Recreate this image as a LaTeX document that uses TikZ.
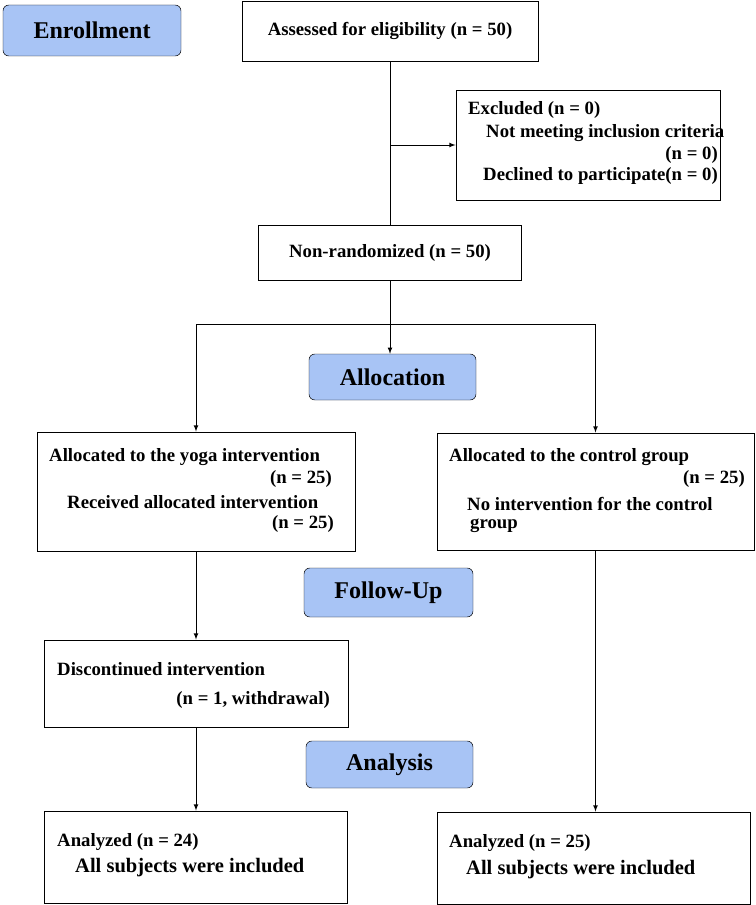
\documentclass[tikz,border=0pt]{standalone}
\usepackage{fontspec}
\setmainfont{Liberation Serif}
\usetikzlibrary{shapes,arrows,positioning}
\definecolor{labelblue}{RGB}{168,196,245}

\begin{document}
\begin{tikzpicture}[x=0.03cm,y=-0.03cm,
  box/.style={draw, thick, inner sep=0pt},
  stage/.style={draw, rounded corners=5pt, fill=labelblue, inner sep=0pt, font=\fontsize{20.5}{24}\selectfont\bfseries},
  txt/.style={font=\fontsize{16}{19}\selectfont\bfseries, inner sep=0pt},
  big/.style={font=\fontsize{17.5}{21}\selectfont\bfseries, inner sep=0pt},
  arr/.style={-latex, thick}]
\useasboundingbox (0,0) rectangle (755,905);

% Stage labels
\node[stage, minimum width=178*0.03cm, minimum height=51*0.03cm] (enrol) at (92,30.5) {Enrollment};
\node[stage, minimum width=167*0.03cm, minimum height=46*0.03cm] (alloc) at (392.5,377) {Allocation};
\node[stage, minimum width=169*0.03cm, minimum height=49*0.03cm] (follow) at (388.5,592.5) {Follow-Up};
\node[stage, minimum width=167*0.03cm, minimum height=47*0.03cm] (analysis) at (389.5,764.5) {Analysis};

% Boxes
\node[box, minimum width=296*0.03cm, minimum height=60*0.03cm] (assess) at (390,31) {};
\node[txt] at (assess.center) {Assessed for eligibility (n = 50)};
\node[box, minimum width=264*0.03cm, minimum height=110*0.03cm] (excl) at (588,145) {};
\node[txt, anchor=west] at (468,110) {Excluded (n = 0)};
\node[txt, anchor=west] at (486,133) {Not meeting inclusion criteria};
\node[txt, anchor=east] at (718,155) {(n = 0)};
\node[txt, anchor=west] at (483,176) {Declined to participate(n = 0)};
\node[box, minimum width=263*0.03cm, minimum height=55*0.03cm] (nonrand) at (390,252.5) {};
\node[txt] at (nonrand.center) {Non-randomized (n = 50)};

\node[box, minimum width=318*0.03cm, minimum height=119*0.03cm] (yoga) at (196,491.5) {};
\node[txt, anchor=west] at (49,457) {Allocated to the yoga intervention};
\node[txt, anchor=east] at (332,479) {(n = 25)};
\node[txt, anchor=west] at (67,502) {Received allocated intervention};
\node[txt, anchor=east] at (334,524) {(n = 25)};
\node[box, minimum width=317*0.03cm, minimum height=117*0.03cm] (ctrl) at (595.5,491.5) {};
\node[txt, anchor=west] at (449,457) {Allocated to the control group};
\node[txt, anchor=east] at (745,479) {(n = 25)};
\node[txt, anchor=west] at (467,504) {No intervention for the control};
\node[txt, anchor=west] at (470,526) {group};

\node[box, minimum width=304*0.03cm, minimum height=87*0.03cm] (disc) at (196,683.5) {};
\node[txt, anchor=west] at (57,669) {Discontinued intervention};
\node[txt, anchor=east] at (330,700) {(n = 1, withdrawal)};

\node[box, minimum width=303*0.03cm, minimum height=92*0.03cm] (anyoga) at (196,857) {};
\node[txt, anchor=west] at (57,842) {Analyzed (n = 24)};
\node[big, anchor=west] at (75,868) {All subjects were included};
\node[box, minimum width=313*0.03cm, minimum height=92*0.03cm] (anctrl) at (593.5,858) {};
\node[txt, anchor=west] at (449,843) {Analyzed (n = 25)};
\node[big, anchor=west] at (466,870) {All subjects were included};

% Connectors
\coordinate (excsplit) at (390,145);
\coordinate (splitl) at (196,324);
\coordinate (splitr) at (595.5,324);
\draw[thick] (assess) -- (nonrand);
\draw[arr] (excsplit) -- (excl.west);
\draw[arr] (nonrand.south) -- (nonrand.south |- alloc.north);
\draw[thick] (splitl) -- (splitr);
\draw[arr] (splitl) -- (yoga.north);
\draw[arr] (splitr) -- (ctrl.north);
\draw[arr] (yoga) -- (disc);
\draw[arr] (disc) -- (anyoga);
\draw[arr] (ctrl) -- (ctrl.south |- anctrl.north);
\end{tikzpicture}
\end{document}
